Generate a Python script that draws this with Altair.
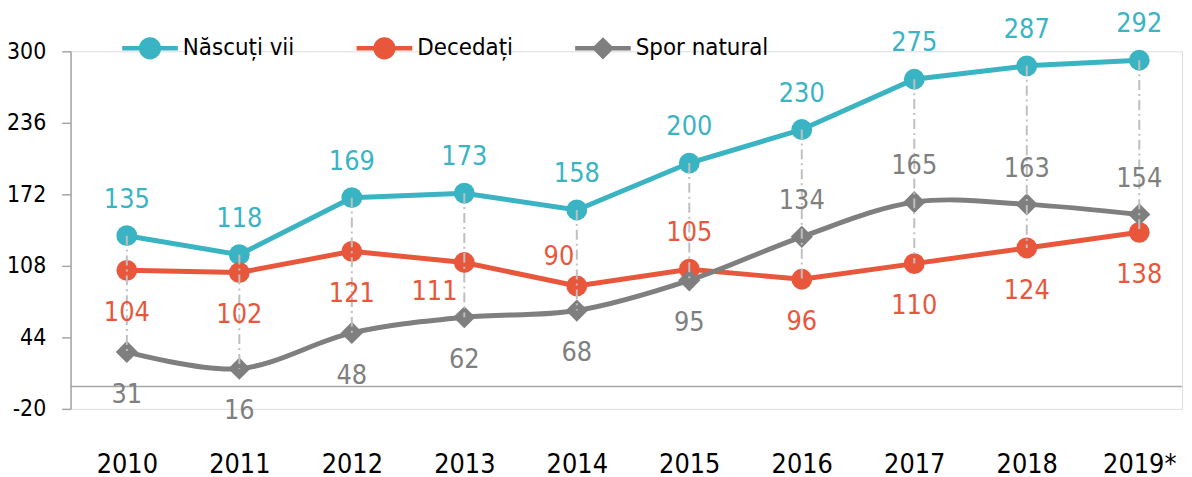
import json
import altair as alt
import pandas as pd

# ---- data -------------------------------------------------------------
years = ["2010", "2011", "2012", "2013", "2014", "2015", "2016", "2017", "2018", "2019*"]
nascuti = [135, 118, 169, 173, 158, 200, 230, 275, 287, 292]
decedati = [104, 102, 121, 111, 90, 105, 96, 110, 124, 138]
spor = [31, 16, 48, 62, 68, 95, 134, 165, 163, 154]
series_names = ["Născuți vii", "Decedați", "Spor natural"]
y_ticks = [-20, 44, 108, 172, 236, 300]

# label placement for each point (mapped to offsets below)
place_nascuti = ["above"] * 10
place_decedati = ["below", "below", "below", "below_left", "above_left",
                  "above", "below", "below", "below", "below"]
place_spor = ["below"] * 6 + ["above"] * 4

# ---- styles -----------------------------------------------------------
colors = ["#3AB4C2", "#E8573C", "#7F7F7F"]
FONT = "DejaVu Sans Condensed, Liberation Sans Narrow, Roboto"
offsets = {
    "above": (0, -36),
    "below": (0, 43),
    "below_left": (-30, 30),
    "above_left": (-18, -29),
}

rows = []
for name, vals, places in [(series_names[0], nascuti, place_nascuti),
                           (series_names[1], decedati, place_decedati),
                           (series_names[2], spor, place_spor)]:
    for i, (v, p) in enumerate(zip(vals, places)):
        rows.append({"idx": i, "year": years[i], "series": name, "value": v, "place": p})
df = pd.DataFrame(rows)

color_scale = alt.Scale(domain=series_names, range=colors)
x_enc = alt.X("idx:Q",
              scale=alt.Scale(domain=[-0.5, 9.38], nice=False, zero=False),
              axis=alt.Axis(values=list(range(10)), labelExpr=f"{json.dumps(years)}[datum.value]",
                            grid=False, ticks=False, domain=False, title=None,
                            labelFontSize=27, labelColor="black", labelPadding=43,
                            labelFont=FONT))
y_enc = alt.Y("value:Q",
              scale=alt.Scale(domain=[-20, 300], nice=False, zero=False),
              axis=alt.Axis(values=y_ticks, grid=False, title=None, domainColor="#A6A6A6",
                            domainWidth=1.5, tickColor="#A6A6A6", tickWidth=1.5, tickSize=9,
                            labelFontSize=23, labelColor="black", labelPadding=16,
                            labelExpr="'' + datum.value", labelFont=FONT))
col_enc = alt.Color("series:N", scale=color_scale, legend=None)

base = alt.Chart(df)

# legend: line + marker symbols (drawn invisibly, first layer so its legend wins)
circle_sym = ("M-1,-0.08H1V0.08H-1Z "
              "M-0.4,0A0.4,0.4 0 1,1 0.4,0A0.4,0.4 0 1,1 -0.4,0Z")
diamond_sym = ("M-1,-0.08H1V0.08H-1Z "
               "M-0.4,0L0,-0.4L0.4,0L0,0.4Z")
leg = alt.Legend(title=None, orient="none", legendX=52, legendY=-31,
                 direction="horizontal", symbolSize=3136,
                 symbolStrokeWidth=0, symbolOpacity=1,
                 labelFontSize=24, labelFont=FONT, labelColor="black",
                 labelOffset=5, columnPadding=62, labelLimit=300)
legend_layer = base.mark_point(filled=True, opacity=0).encode(
    x=x_enc, y=y_enc,
    color=alt.Color("series:N", scale=color_scale, legend=leg),
    shape=alt.Shape("series:N",
                    scale=alt.Scale(domain=series_names,
                                    range=[circle_sym, circle_sym, diamond_sym]),
                    legend=leg),
)

zero_line = alt.Chart(pd.DataFrame({"value": [0]})).mark_rule(
    color="#A6A6A6", strokeWidth=1.5).encode(y=alt.Y("value:Q"))

straight_lines = base.transform_filter(
    alt.FieldOneOfPredicate(field="series", oneOf=series_names[:2])
).mark_line(strokeWidth=5).encode(x=x_enc, y=y_enc, color=col_enc, detail="series:N")

smooth_line = base.transform_filter(
    alt.datum.series == series_names[2]
).mark_line(strokeWidth=5, interpolate="cardinal").encode(x=x_enc, y=y_enc, color=col_enc)

circles = base.transform_filter(
    alt.FieldOneOfPredicate(field="series", oneOf=series_names[:2])
).mark_point(filled=True, shape="circle", size=440, opacity=1).encode(x=x_enc, y=y_enc, color=col_enc)

diamonds = base.transform_filter(
    alt.datum.series == series_names[2]
).mark_point(filled=True, shape="diamond", size=500, opacity=1).encode(x=x_enc, y=y_enc, color=col_enc)

hilo = base.transform_aggregate(
    hi="max(value)", lo="min(value)", groupby=["idx"]
).mark_rule(color="#BFBFBF", strokeWidth=2, strokeDash=[10, 4, 2, 4]).encode(
    x=alt.X("idx:Q"), y=alt.Y("hi:Q"), y2="lo:Q")

label_layers = []
for pname, (dx, dy) in offsets.items():
    label_layers.append(
        base.transform_filter(alt.datum.place == pname).mark_text(
            dx=dx, dy=dy, fontSize=27, font=FONT, baseline="middle", align="center"
        ).encode(x=x_enc, y=y_enc, text="value:Q", color=col_enc)
    )

chart = alt.layer(
    legend_layer, zero_line, straight_lines, smooth_line, circles, diamonds, hilo, *label_layers
).properties(
    width=1119, height=360,
    autosize=alt.AutoSizeParams(type="none"),
    padding={"left": 63, "top": 42, "right": 2, "bottom": 69},
).configure_view(stroke=None).configure(font=FONT)

chart.save("out.html", embed_options={"renderer": "svg", "actions": False})
